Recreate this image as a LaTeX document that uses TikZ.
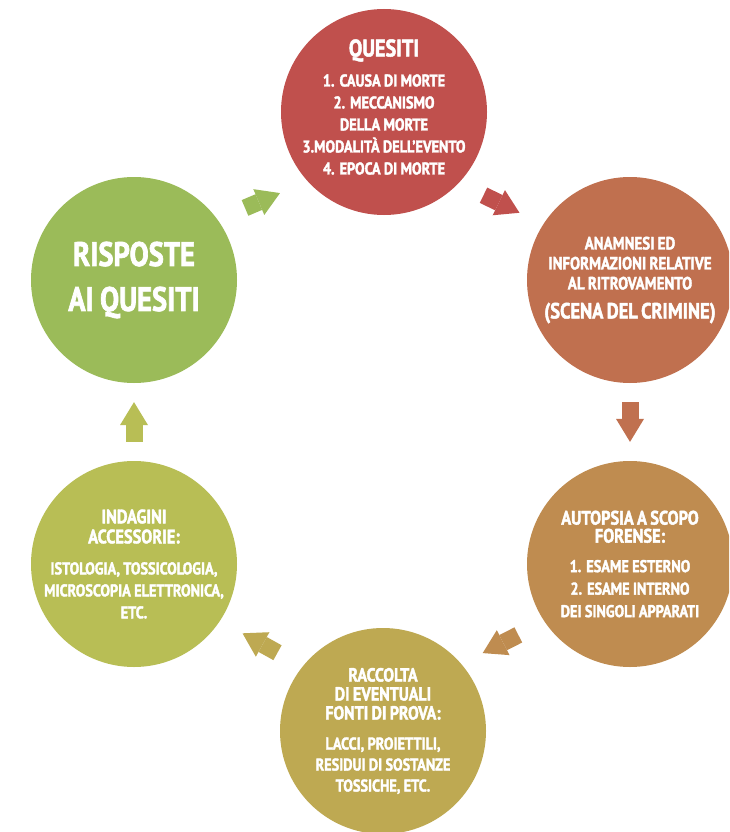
\documentclass[tikz,border=0pt]{standalone}
\usepackage{fontspec}
\newfontfamily\stagefont{PT Sans Bold}[FakeStretch=0.84, FakeBold=2]
\usetikzlibrary{arrows.meta,calc}
\definecolor{cq}{HTML}{C0504D}
\definecolor{ca}{HTML}{C0704F}
\definecolor{cb}{HTML}{BF8C50}
\definecolor{cc}{HTML}{BEA952}
\definecolor{cd}{HTML}{B8BE55}
\definecolor{ce}{HTML}{9BBB59}
\begin{document}
\begin{tikzpicture}[x=1pt,y=-1pt,
  stage/.style={circle, minimum size=206pt, inner sep=0pt, draw=none},
  stagetext/.style={text=white, font=\stagefont, align=center, text width=200pt, inner sep=0pt},
  flow/.style={line width=17pt, -{Triangle[length=23pt,width=28pt,line width=0pt]}}]
\clip (0,0) rectangle (729,832);
\useasboundingbox (0,0) rectangle (729,832);
\fill[white] (0,0) rectangle (729,832);

\node[stage, fill=cq] (q) at (384,112) {};
\node[stage, fill=ca] (a) at (630,280) {};
\node[stage, fill=cb] (b) at (630,564) {};
\node[stage, fill=cc] (c) at (383,731) {};
\node[stage, fill=cd] (d) at (134,564) {};
\node[stage, fill=ce] (e) at (134,280) {};

\node[stagetext] (qt) at ($(q)+(0,-5)$) {\fontsize{24}{24}\selectfont QUESITI\\[8pt]
  \fontsize{17}{22}\selectfont 1. CAUSA DI MORTE\\ 2. MECCANISMO\\ DELLA MORTE\\ 3.MODALITÀ DELL’EVENTO\\ 4. EPOCA DI MORTE\par};
\node[stagetext] (at) at (a) {\fontsize{17.8}{20}\selectfont ANAMNESI ED\\ INFORMAZIONI RELATIVE\\ AL RITROVAMENTO\\
  \fontsize{22}{29}\selectfont (SCENA DEL CRIMINE)\par};
\node[stagetext] (bt) at (b) {\fontsize{19.5}{18}\selectfont AUTOPSIA A SCOPO\\ FORENSE:\\[7pt]
  \fontsize{17}{22.5}\selectfont 1. ESAME ESTERNO\\ 2. ESAME INTERNO\\ DEI SINGOLI APPARATI\par};
\node[stagetext] (ct) at (c) {\fontsize{19}{19}\selectfont RACCOLTA\\ DI EVENTUALI\\ FONTI DI PROVA:\\[9pt]
  \fontsize{17}{21}\selectfont LACCI, PROIETTILI,\\ RESIDUI DI SOSTANZE\\ TOSSICHE, ETC.\par};
\node[stagetext] (dt) at (d) {\fontsize{19.5}{20}\selectfont INDAGINI\\ ACCESSORIE:\\[9pt]
  \fontsize{17}{22}\selectfont ISTOLOGIA, TOSSICOLOGIA,\\ MICROSCOPIA ELETTRONICA,\\ ETC.\par};
\node[stagetext] (et) at (e) {\fontsize{34}{45}\selectfont RISPOSTE\\ AI\hspace{3pt} QUESITI\par};

\draw[flow, draw=cq] ($(q)!0.5!(a)+(-5.5,8)+(206:20)$) -- ++(26:40);
\draw[flow, draw=ca] ($(a)!0.43!(b)$) -- ($(a)!0.57!(b)$);
\draw[flow, draw=cb] ($(b)!0.5!(c)+(-6,-3.5)+(333:20)$) -- ++(153:40);
\draw[flow, draw=cc] ($(c)!0.5!(d)+(1.5,-4.5)+(29:20)$) -- ++(209:40);
\draw[flow, draw=cd] ($(d)!0.43!(e)$) -- ($(d)!0.57!(e)$);
\draw[flow, draw=ce] ($(e)!0.5!(q)+(3.5,4.5)+(157:19)$) -- ++(337:38);
\end{tikzpicture}
\end{document}
